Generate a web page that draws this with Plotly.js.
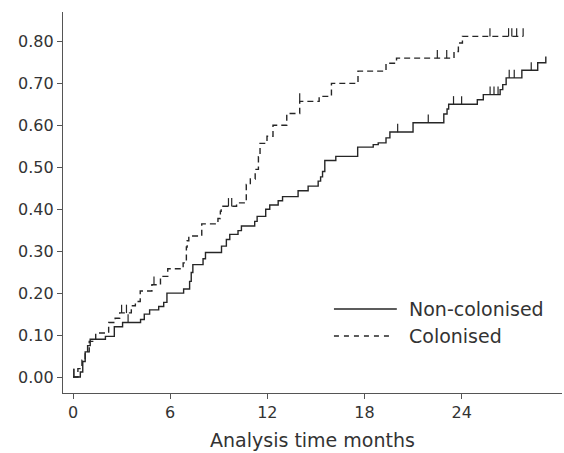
<!DOCTYPE html>
<html><head><meta charset="utf-8">
<script src="https://cdn.plot.ly/plotly-3.0.1.min.js"></script>
<style>html,body{margin:0;padding:0;background:#fff}</style>
</head><body><div id="chart" style="width:564px;height:453px"></div>
<script>
// Non-colonised (solid) step curve
const nonColTime = [0,0.45,0.6,0.75,0.9,1.06,2.0,2.55,3.06,4.17,4.4,4.73,5.29,5.6,5.8,6.83,7.2,7.3,7.4,8.03,8.18,9.17,9.47,9.68,10.19,10.4,11.22,11.37,11.9,12.15,12.67,12.94,13.9,14.52,15.14,15.29,15.41,15.55,16.23,17.58,18.54,18.85,19.33,19.57,21.0,22.9,23.1,23.2,24.97,25.34,26.38,26.54,26.75,27.72,28.7,29.2];
const nonColValue = [0,0.012,0.037,0.06,0.075,0.09,0.097,0.12,0.13,0.137,0.15,0.16,0.168,0.178,0.20,0.21,0.228,0.249,0.268,0.282,0.297,0.312,0.328,0.34,0.349,0.36,0.371,0.383,0.40,0.41,0.42,0.43,0.444,0.455,0.467,0.477,0.49,0.516,0.526,0.548,0.554,0.558,0.57,0.584,0.606,0.627,0.639,0.65,0.661,0.673,0.685,0.697,0.713,0.731,0.749,0.764];
const nonColCensor = [0.05,3.4,20.05,21.94,23.5,24.0,25.76,26.0,26.25,26.94,27.25,28.3];

// Colonised (dashed) step curve
const colTime = [0,0.3,0.55,0.75,1.0,1.4,2.2,2.6,2.88,3.6,3.85,4.15,4.87,5.4,5.85,6.8,7.0,7.05,7.15,7.95,8.95,9.1,9.15,10.1,10.7,10.95,11.25,11.45,11.55,11.98,12.35,13.2,14.0,15.2,15.96,17.6,19.33,19.98,23.53,23.8,24.05,27.8];
const colValue = [0,0.02,0.04,0.06,0.085,0.105,0.13,0.14,0.153,0.17,0.18,0.205,0.22,0.24,0.258,0.272,0.31,0.325,0.336,0.365,0.378,0.395,0.407,0.415,0.459,0.472,0.495,0.525,0.557,0.574,0.60,0.628,0.657,0.669,0.70,0.729,0.748,0.76,0.776,0.796,0.812,0.812];
const colCensor = [0.05,3.0,3.3,5.0,9.6,9.8,14.0,22.5,23.08,25.75,26.9,27.1,27.4,27.8];

const xTicks = [0,6,12,18,24];
const yTicks = [0,0.1,0.2,0.3,0.4,0.5,0.6,0.7,0.8];
const seriesNames = ['Non-colonised','Colonised'];

const lineColor = '#262626';
const tickOffset = 0.0095;

function stepAt(times, vals, t){
  let v = vals[0];
  for (let i=0;i<times.length;i++){ if (times[i] <= t) v = vals[i]; }
  return v;
}

const traces = [
  {x: nonColTime, y: nonColValue, mode:'lines', line:{shape:'hv', color:lineColor, width:1.4}, showlegend:false, hoverinfo:'skip'},
  {x: colTime, y: colValue, mode:'lines', line:{shape:'hv', color:lineColor, width:1.4, dash:'6px,4px'}, showlegend:false, hoverinfo:'skip'},
  {x: nonColCensor, y: nonColCensor.map(t=>stepAt(nonColTime,nonColValue,t)+tickOffset), mode:'markers',
   marker:{symbol:'line-ns', size:6, line:{width:1.2, color:lineColor}}, showlegend:false, hoverinfo:'skip'},
  {x: colCensor, y: colCensor.map(t=>stepAt(colTime,colValue,t)+tickOffset), mode:'markers',
   marker:{symbol:'line-ns', size:6, line:{width:1.2, color:lineColor}}, showlegend:false, hoverinfo:'skip'}
];

const font = {family:'"DejaVu Sans", Roboto, sans-serif', color:'#333'};

const layout = {
  width:564, height:453,
  margin:{l:63, r:2, t:12, b:60},
  paper_bgcolor:'#fff', plot_bgcolor:'#fff',
  font: Object.assign({size:16}, font),
  showlegend:false,
  xaxis:{
    range:[-0.62, 30.2], tickvals:xTicks, ticktext:xTicks.map(String),
    ticks:'outside', ticklen:5, tickwidth:1, tickcolor:'#555',
    showline:true, linecolor:'#555', linewidth:1.2, showgrid:false, zeroline:false,
    tickfont:Object.assign({size:16}, font),
    title:{text:'Analysis time months', font:Object.assign({size:19}, font), standoff:12},
    automargin:false
  },
  yaxis:{
    range:[-0.038, 0.870], tickvals:yTicks, ticktext:yTicks.map(v=>v.toFixed(2)),
    ticks:'outside', ticklen:5, tickwidth:1, tickcolor:'#555',
    showline:true, linecolor:'#555', linewidth:1.2, showgrid:false, zeroline:false,
    tickfont:Object.assign({size:16}, font),
    automargin:false
  },
  shapes:[
    {type:'line', xref:'paper', yref:'paper', x0:0.543, x1:0.669, y0:0.2205, y1:0.2205, line:{color:lineColor, width:1.3}},
    {type:'line', xref:'paper', yref:'paper', x0:0.543, x1:0.659, y0:0.1496, y1:0.1496, line:{color:lineColor, width:1.3, dash:'5px,5px'}}
  ],
  annotations:[
    {xref:'paper', yref:'paper', x:0.689, y:0.2205, xanchor:'left', yanchor:'middle', text:seriesNames[0], showarrow:false, font:Object.assign({size:19}, font)},
    {xref:'paper', yref:'paper', x:0.689, y:0.1496, xanchor:'left', yanchor:'middle', text:seriesNames[1], showarrow:false, font:Object.assign({size:19}, font)}
  ]
};

Plotly.newPlot('chart', traces, layout, {displayModeBar:false, staticPlot:true});
</script>
</body></html>
